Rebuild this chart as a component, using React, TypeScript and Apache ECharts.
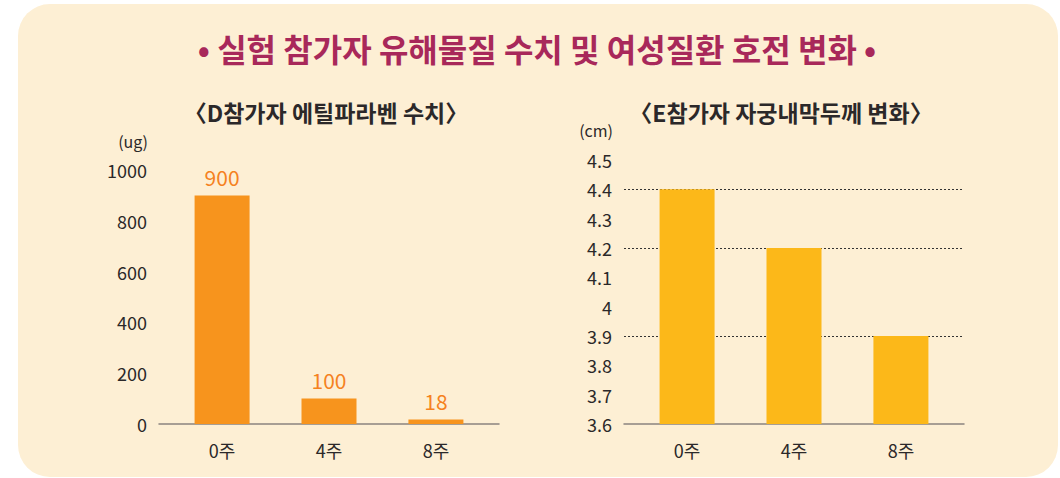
import React, { useEffect, useRef } from "react";
import * as echarts from "echarts";

const mainTitle = "• 실험 참가자 유해물질 수치 및 여성질환 호전 변화 •";
const leftTitle = "〈D참가자 에틸파라벤 수치〉";
const rightTitle = "〈E참가자 자궁내막두께 변화〉";
const weeks = ["0주", "4주", "8주"];
const leftUnit = "(ug)";
const rightUnit = "(cm)";
const parabenValues = [900, 100, 18];
const thicknessValues = [4.4, 4.2, 3.9];

const FONT = "'Noto Sans CJK KR', 'Noto Sans', sans-serif";
const TXT = "#2b2829";

export default function App() {
  const ref = useRef<HTMLDivElement>(null);
  useEffect(() => {
    if (!ref.current) return;
    const chart = echarts.init(ref.current, null, { renderer: "svg" });
    const xAxisBase = (gridIndex: number) => ({
      type: "value" as const,
      gridIndex,
      min: -0.59,
      max: 2.59,
      splitLine: { show: false },
      axisTick: { show: false },
      axisLine: { show: true, onZero: false, lineStyle: { color: "#8a847f", width: 1.5 } },
      axisLabel: {
        customValues: [0, 1, 2],
        formatter: (v: number) => weeks[Math.round(v)] ?? "",
        color: TXT,
        fontSize: 18,
        fontFamily: FONT,
        margin: 17,
      },
    });
    const unitText = (text: string, x: number, y: number) => ({
      type: "text",
      x,
      y,
      style: {
        text,
        fill: TXT,
        font: `16px ${FONT}`,
        align: "right",
        verticalAlign: "middle",
      },
    });
    chart.setOption({
      animation: false,
      backgroundColor: "#ffffff",
      textStyle: { fontFamily: FONT },
      graphic: [
        {
          type: "rect",
          z: -10,
          shape: { x: 18, y: 4, width: 1040, height: 473, r: 32 },
          style: { fill: "#fdefd4" },
        },
        {
          type: "text",
          x: 537,
          y: 48,
          style: {
            text: mainTitle,
            fill: "#a8285a",
            font: `bold 32px ${FONT}`,
            align: "center",
            verticalAlign: "middle",
          },
        },
        {
          type: "text",
          x: 326,
          y: 112,
          style: {
            text: leftTitle,
            fill: TXT,
            font: `bold 23px ${FONT}`,
            align: "center",
            verticalAlign: "middle",
          },
        },
        {
          type: "text",
          x: 781,
          y: 112,
          style: {
            text: rightTitle,
            fill: TXT,
            font: `bold 23px ${FONT}`,
            align: "center",
            verticalAlign: "middle",
          },
        },
        unitText(leftUnit, 148, 141),
        unitText(rightUnit, 613, 130),
      ],
      grid: [
        { left: 159, width: 340, top: 170, height: 254 },
        { left: 624, width: 340, top: 160, height: 264 },
      ],
      xAxis: [xAxisBase(0), xAxisBase(1)],
      yAxis: [
        {
          type: "value",
          gridIndex: 0,
          min: 0,
          max: 1000,
          interval: 200,
          axisLine: { show: false },
          axisTick: { show: false },
          splitLine: { show: false },
          axisLabel: {
            color: TXT,
            fontSize: 18,
            fontFamily: FONT,
            margin: 12,
            formatter: (v: number) => String(v),
          },
        },
        {
          type: "value",
          gridIndex: 1,
          min: 3.6,
          max: 4.5,
          interval: 0.1,
          axisLine: { show: false },
          axisTick: { show: false },
          splitLine: { show: false },
          axisLabel: {
            color: TXT,
            fontSize: 18,
            fontFamily: FONT,
            margin: 12,
            formatter: (v: number) => String(Math.round(v * 10) / 10),
          },
        },
      ],
      series: [
        {
          type: "bar",
          xAxisIndex: 0,
          yAxisIndex: 0,
          barWidth: 55,
          z: 2,
          data: parabenValues.map((v, i) => [i, v]),
          itemStyle: { color: "#f7941d" },
          label: {
            show: true,
            position: "top",
            distance: 8,
            color: "#f5821f",
            fontSize: 21,
            fontFamily: FONT,
            formatter: (p: any) => String(p.value[1]),
          },
        },
        {
          type: "bar",
          xAxisIndex: 1,
          yAxisIndex: 1,
          barWidth: 55,
          z: 2,
          data: thicknessValues.map((v, i) => [i, v]),
          itemStyle: { color: "#fcb819" },
          markLine: {
            z: 1,
            silent: true,
            symbol: "none",
            label: { show: false },
            lineStyle: { color: "#333", width: 1, type: [2, 2] },
            data: thicknessValues.map((v) => ({ yAxis: v })),
          },
        },
      ],
    });
    return () => chart.dispose();
  }, []);
  return (
    <div
      ref={ref}
      style={{ position: "fixed", left: 0, top: 0, width: 1060, height: 478 }}
    />
  );
}
